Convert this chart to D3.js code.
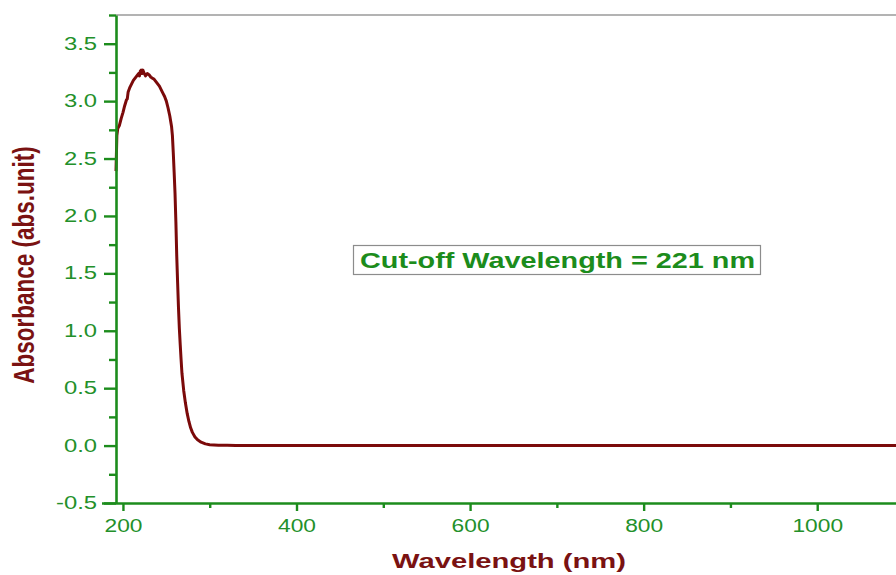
<!DOCTYPE html>
<html>
<head>
<meta charset="utf-8">
<script src="https://cdn.jsdelivr.net/npm/d3@7"></script>
<style>
  html, body { margin: 0; padding: 0; background: #fff; }
  svg { display: block; }
  text { font-family: "Liberation Sans", Arial, sans-serif; }
</style>
</head>
<body>
<svg id="chart" width="896" height="575"></svg>
<script>
// ---- Data ----
const wavelength = [192, 193, 194, 196, 198, 200, 202, 204, 205, 206, 208, 210, 212, 214, 216, 218, 219, 220, 221, 222, 223, 224, 226, 228, 230, 232, 234, 236, 238, 240, 242, 244, 246, 248, 250, 252, 254, 256, 257, 258, 259, 260, 261, 262, 263, 264, 265, 266, 267, 268, 270, 272, 274, 276, 278, 280, 283, 286, 290, 295, 300, 310, 320, 330, 400, 500, 600, 700, 800, 900, 1000, 1100];
const absorbance = [2.39, 2.70, 2.76, 2.79, 2.85, 2.90, 2.96, 3.01, 3.02, 3.08, 3.12, 3.15, 3.18, 3.20, 3.22, 3.24, 3.22, 3.26, 3.27, 3.24, 3.27, 3.25, 3.22, 3.24, 3.23, 3.21, 3.20, 3.19, 3.17, 3.15, 3.13, 3.10, 3.07, 3.04, 3.00, 2.94, 2.87, 2.78, 2.70, 2.55, 2.38, 2.20, 1.95, 1.65, 1.42, 1.20, 1.02, 0.88, 0.75, 0.63, 0.48, 0.37, 0.28, 0.21, 0.155, 0.115, 0.075, 0.05, 0.03, 0.015, 0.008, 0.004, 0.002, 0.0, 0.0, 0.0, 0.0, 0.0, 0.0, 0.0, 0.0, 0.0];
const xTicks = [200, 400, 600, 800, 1000];
const xMinorTicks = [300, 500, 700, 900, 1100];
const yTicks = [-0.5, 0.0, 0.5, 1.0, 1.5, 2.0, 2.5, 3.0, 3.5];
const yMinorTicks = [-0.25, 0.25, 0.75, 1.25, 1.75, 2.25, 2.75, 3.25, 3.75];
const xTitle = "Wavelength (nm)";
const yTitle = "Absorbance (abs.unit)";
const annotation = "Cut-off Wavelength = 221 nm";

// ---- Styles ----
const green = "#1c8c1c";
const labelGreen = "#23902a";
const darkRed = "#7a1212";
const lineColor = "#7b0a0a";

const svg = d3.select("#chart");
const x = d3.scaleLinear().domain([192, 1100]).range([116, 904]);
const y = d3.scaleLinear().domain([-0.5, 3.75]).range([503, 15]);

function stretch(sel, f) {
  sel.each(function() {
    const len = this.getComputedTextLength();
    d3.select(this).attr("textLength", len * f).attr("lengthAdjust", "spacingAndGlyphs");
  });
}

// top frame
svg.append("line")
  .attr("x1", x(192)).attr("x2", 896)
  .attr("y1", y(3.75)).attr("y2", y(3.75))
  .attr("stroke", "#9a9a9a").attr("stroke-width", 1.5);

// curve
const data = wavelength.map((w, i) => ({w, a: absorbance[i]}));
svg.append("path")
  .datum(data)
  .attr("fill", "none")
  .attr("stroke", lineColor)
  .attr("stroke-width", 3)
  .attr("stroke-linejoin", "round")
  .attr("d", d3.line().x(d => x(d.w)).y(d => y(d.a)));

// X axis
const gx = svg.append("g").attr("transform", `translate(0,${y(-0.5)})`);
gx.call(d3.axisBottom(x).tickValues(xTicks).tickSize(8).tickPadding(9).tickSizeOuter(0).tickFormat(d3.format("d")));
const gxm = svg.append("g").attr("transform", `translate(0,${y(-0.5)})`);
gxm.call(d3.axisBottom(x).tickValues(xMinorTicks).tickSize(5).tickSizeOuter(0).tickFormat(""));
gxm.select(".domain").remove();

// Y axis
const yFmt = d => d.toFixed(1);
const gy = svg.append("g").attr("transform", `translate(${x(192)},0)`);
gy.call(d3.axisLeft(y).tickValues(yTicks).tickSize(12).tickPadding(7).tickSizeOuter(0).tickFormat(yFmt));
const gym = svg.append("g").attr("transform", `translate(${x(192)},0)`);
gym.call(d3.axisLeft(y).tickValues(yMinorTicks).tickSize(7).tickSizeOuter(0).tickFormat(""));
gym.select(".domain").remove();

[gx, gxm, gy, gym].forEach(g => {
  g.selectAll(".domain").attr("stroke", green).attr("stroke-width", 2.6);
  g.selectAll(".tick line").attr("stroke", green).attr("stroke-width", 2.4);
  g.selectAll(".tick text")
    .attr("fill", labelGreen)
    .style("font-size", "17.5px")
    .style("font-family", "'Liberation Sans', Arial, sans-serif");
});
gx.select(".domain").attr("d", `M${x(192) - 14},0.5H896`);
stretch(gx.selectAll(".tick text"), 1.3);
stretch(gy.selectAll(".tick text"), 1.36);

// X title
svg.append("text")
  .attr("x", 509).attr("y", 568)
  .attr("text-anchor", "middle")
  .attr("fill", darkRed)
  .style("font-size", "21px").style("font-weight", "bold")
  .attr("textLength", 234).attr("lengthAdjust", "spacingAndGlyphs")
  .text(xTitle);

// Y title
svg.append("text")
  .attr("transform", "translate(34,265) rotate(-90) scale(1,1.3)")
  .attr("text-anchor", "middle")
  .attr("fill", darkRed)
  .style("font-size", "22.5px").style("font-weight", "bold")
  .text(yTitle);

// Annotation box
svg.append("rect")
  .attr("x", 353.5).attr("y", 245.5).attr("width", 407).attr("height", 29)
  .attr("fill", "#fff").attr("stroke", "#8c8c8c").attr("stroke-width", 1.2);
svg.append("text")
  .attr("x", 360).attr("y", 268)
  .attr("fill", green)
  .style("font-size", "21.5px").style("font-weight", "bold")
  .attr("textLength", 395).attr("lengthAdjust", "spacingAndGlyphs")
  .text(annotation);
</script>
</body>
</html>
